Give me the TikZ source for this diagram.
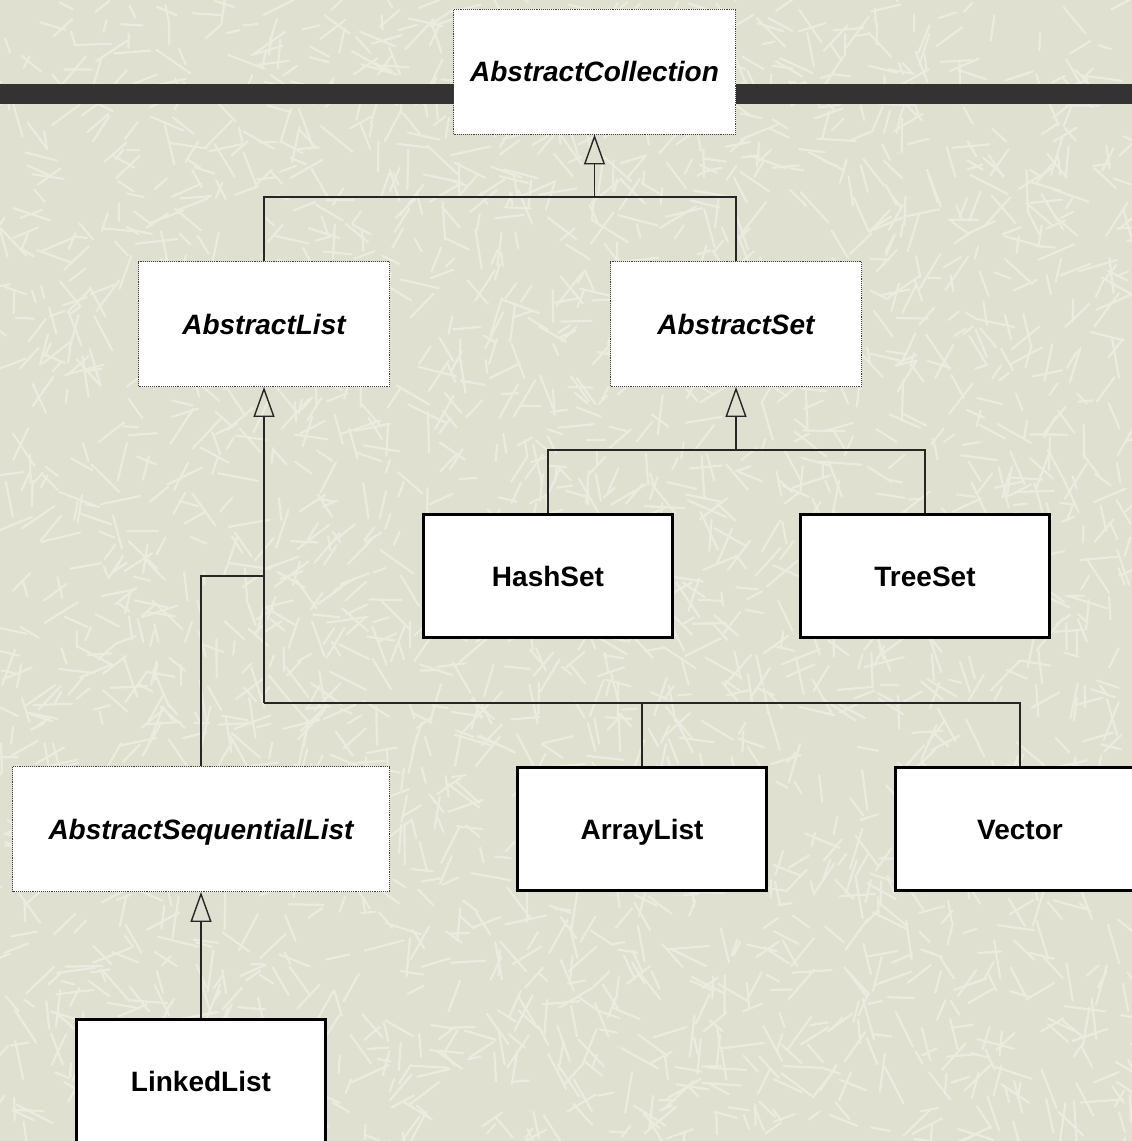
\documentclass[tikz,border=0pt]{standalone}
\usepackage{fontspec}
\setmainfont{Liberation Sans}
\usetikzlibrary{arrows.meta}
\definecolor{bgbase}{HTML}{E0E0D1}
\definecolor{bgstroke}{HTML}{EBEBDF}
\definecolor{barcol}{HTML}{333333}
\tikzset{
  absbox/.style={draw=black!75, densely dotted, line width=0.9pt, fill=white,
    minimum width=251pt, minimum height=125pt, inner sep=0pt,
    text height=26pt, text depth=6pt,
    font=\fontsize{28}{34}\selectfont\bfseries\itshape},
  concbox/.style={draw=black, line width=3pt, fill=white,
    minimum width=249pt, minimum height=123pt, inner sep=0pt,
    text height=26pt, text depth=6pt,
    font=\fontsize{28}{34}\selectfont\bfseries},
  conn/.style={draw=black!85, line width=1.4pt},
  inh/.style={conn, -{Triangle[open, width=21pt, length=30pt]}},
  texstroke/.style={bgstroke, line width=2.2pt, line cap=round},
}
\begin{document}
\begin{tikzpicture}[x=1pt, y=-1pt]
\useasboundingbox (0,0) rectangle (1132,1141);
\clip (0,0) rectangle (1132,1141);
% background
\fill[bgbase] (0,0) rectangle (1132,1141);
\pgfmathsetseed{7}
\foreach \i in {1,...,2600}{
  \pgfmathsetmacro\px{rnd*1132}
  \pgfmathsetmacro\py{rnd*1141}
  \pgfmathsetmacro\pa{rnd*360}
  \pgfmathsetmacro\pl{12+rnd*30}
  \draw[texstroke] (\px,\py) -- ++(\pa:\pl);
}
% dark bar
\fill[barcol] (0,84) rectangle (1132,104);
% nodes
\node[absbox, minimum width=282pt] (coll) at (594.5,71.5) {AbstractCollection};
\node[absbox] (alist) at (264,324) {AbstractList};
\node[absbox] (aset) at (736,324) {AbstractSet};
\node[concbox] (hash) at (548,576) {HashSet};
\node[concbox] (tree) at (925,576) {TreeSet};
\node[absbox, minimum width=377pt] (aseq) at (201,829) {AbstractSequentialList};
\node[concbox] (array) at (642,829) {ArrayList};
\node[concbox] (vector) at (1020,829) {Vector};
\node[concbox] (linked) at (201,1081) {LinkedList};
% junctions
\coordinate (jc) at (594.5,197);
\coordinate (jl1) at (264,576);
\coordinate (jl2) at (264,703);
\coordinate (js) at (736,450);
% connectors
\draw[inh] (jc) -- (coll.south);
\draw[conn] (alist.north) |- (jc);
\draw[conn] (aset.north) |- (jc);
\draw[inh] (jl2) -- (alist.south);
\draw[conn] (aseq.north) |- (jl1);
\draw[conn] (array.north) |- (jl2);
\draw[conn] (vector.north) |- (jl2);
\draw[inh] (js) -- (aset.south);
\draw[conn] (hash.north) |- (js);
\draw[conn] (tree.north) |- (js);
\draw[inh] (linked.north) -- (aseq.south);
\end{tikzpicture}
\end{document}
